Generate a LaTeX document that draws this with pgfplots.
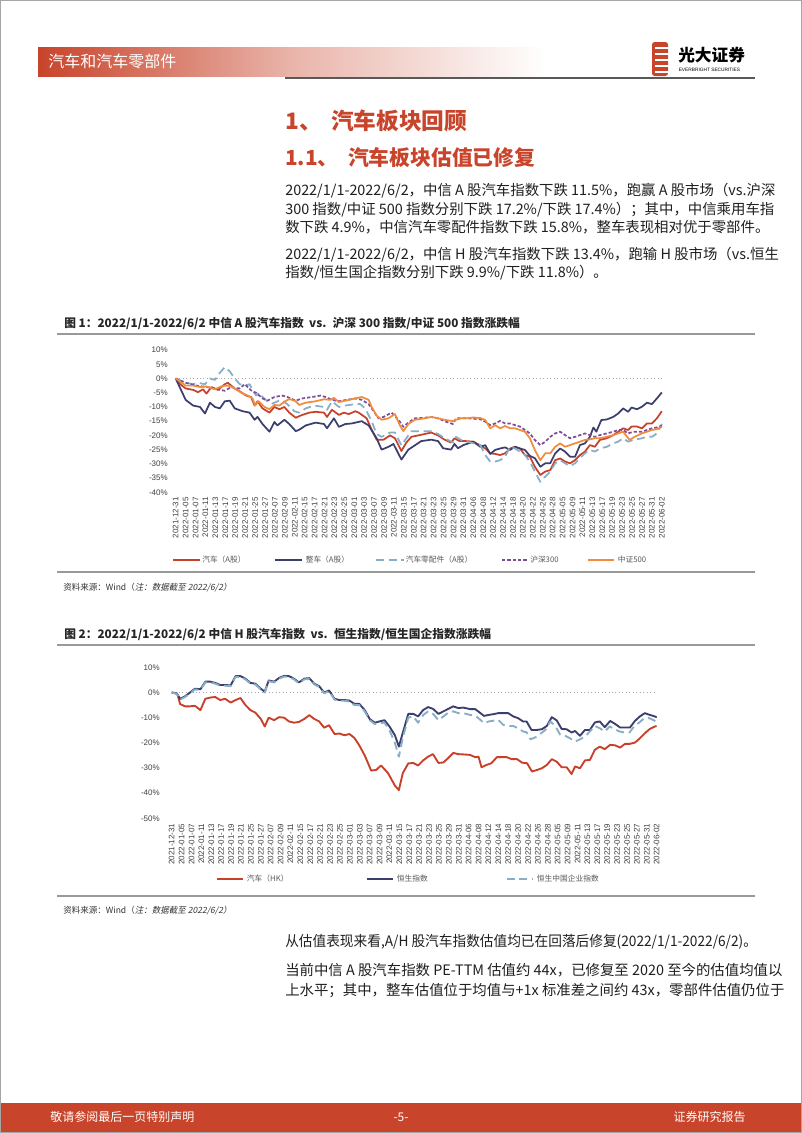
\documentclass[border=0pt]{standalone}
\usepackage{pgfplots}
\pgfplotsset{compat=1.18}
\usepackage{fontspec}
\setmainfont{Liberation Sans}
\newfontfamily\cjk{Noto Sans CJK SC}
\newfontfamily\cjkit[FakeSlant=0.2]{Noto Sans CJK SC}
\newfontfamily\arial{Liberation Sans}
\definecolor{hdr}{HTML}{C8442B}
\definecolor{cred}{HTML}{C9402A}
\definecolor{cnavy}{HTML}{3C3F6E}
\definecolor{cblue}{HTML}{86AEC6}
\definecolor{cpurp}{HTML}{7B4E9C}
\definecolor{corange}{HTML}{F28C3C}
\definecolor{tgray}{HTML}{404040}
\newcommand{\fs}[1]{\fontsize{#1}{#1}\selectfont}
\pgfplotsset{
  datelabels/.style={xticklabels={2021-12-31,2022-01-05,2022-01-07,2022-01-11,2022-01-13,2022-01-17,2022-01-19,2022-01-21,2022-01-25,2022-01-27,2022-02-07,2022-02-09,2022-02-11,2022-02-15,2022-02-17,2022-02-21,2022-02-23,2022-02-25,2022-03-01,2022-03-03,2022-03-07,2022-03-09,2022-03-11,2022-03-15,2022-03-17,2022-03-21,2022-03-23,2022-03-25,2022-03-29,2022-03-31,2022-04-06,2022-04-08,2022-04-12,2022-04-14,2022-04-18,2022-04-20,2022-04-22,2022-04-26,2022-04-28,2022-05-05,2022-05-09,2022-05-11,2022-05-13,2022-05-17,2022-05-19,2022-05-23,2022-05-25,2022-05-27,2022-05-31,2022-06-02}},
  pagechart/.style={
    anchor=south west, scale only axis,
    xmin=0, xmax=98,
    axis line style={draw=none},
    major tick length=0pt,
    xtick={0,2,...,98}, datelabels,
    tick label style={font=\arial\fs{6}, text=tgray},
    xticklabel style={rotate=90, anchor=east, inner xsep=3.4pt, inner ysep=0pt},
    clip=false,
    every axis plot/.append style={line join=round},
  }
}
\begin{document}
\begin{tikzpicture}
\begin{scope}[x=0.75pt,y=-0.75pt]
\path[use as bounding box, fill=white] (0,0) rectangle (802,1133);
\draw[black!35, line width=0.75pt] (0.5,0.5) rectangle (801.5,1132.5);
% header
\shade[left color=hdr, right color=white, middle color=hdr!40] (38,47) rectangle (545,76);
\node[anchor=base west, inner sep=0, text=white, font=\cjk\fs{12}] at (48,67.5) {汽车和汽车零部件};
\draw[black!65, line width=1.5pt] (285,77.5) -- (755,77.5);
% logo
\fill[hdr, rounded corners=2pt] (652,42) rectangle (668,76);
\foreach \yy in {48,54,60,66,72} {\draw[white, line width=0.9pt] (655,\yy) -- (668.5,\yy);}
\node[anchor=base west, inner sep=0, font=\cjk\bfseries\fs{12.5}] at (678,61) {光大证券};
\node[anchor=base west, inner sep=0, font=\arial\fs{3.6}] at (678.5,71.5) {EVERBRIGHT SECURITIES};
% headings
\node[anchor=base west, inner sep=0, text=hdr, font=\cjk\bfseries\fs{17}] at (285,129) {1、\hspace{7pt}汽车板块回顾};
\node[anchor=base west, inner sep=0, text=hdr, font=\cjk\bfseries\fs{15.6}] at (285,165) {1.1、\hspace{7pt}汽车板块估值已修复};
% body
\begin{scope}[every node/.style={anchor=base west, inner sep=0, font=\cjk\fs{10.8}, text=black!88}]
\node at (285,195.2) {2022/1/1-2022/6/2，中信 A 股汽车指数下跌 11.5\%，跑赢 A 股市场（vs.沪深};
\node at (285,214.2) {300 指数/中证 500 指数分别下跌 17.2\%/下跌 17.4\%）；其中，中信乘用车指};
\node at (285,232.2) {数下跌 4.9\%，中信汽车零配件指数下跌 15.8\%，整车表现相对优于零部件。};
\node at (285,259.2) {2022/1/1-2022/6/2，中信 H 股汽车指数下跌 13.4\%，跑输 H 股市场（vs.恒生};
\node at (285,277.2) {指数/恒生国企指数分别下跌 9.9\%/下跌 11.8\%）。};
\node at (285,946.2) {\scalebox{0.95}[1]{从估值表现来看,A/H 股汽车指数估值均已在回落后修复(2022/1/1-2022/6/2)。}};
\node at (285,975.2) {当前中信 A 股汽车指数 PE-TTM 估值约 44x，已修复至 2020 至今的估值均值以};
\node at (285,995.2) {上水平；其中，整车估值位于均值与+1x 标准差之间约 43x，零部件估值仍位于};
\end{scope}
% figure 1 frame texts
\node[anchor=base west, inner sep=0, font=\cjk\bfseries\fs{8.8}, text=black!85] at (64,327.4) {图 1：2022/1/1-2022/6/2 中信 A 股汽车指数 \ vs. \ 沪深 300 指数/中证 500 指数涨跌幅};
\draw[black!40, line width=1.5pt] (57,333.5) -- (754.5,333.5);
\draw[black!40, line width=1pt] (57,572) -- (754.5,572);
\node[anchor=base west, inner sep=0, font=\cjk\fs{6.4}, text=black!80] at (63,590) {资料来源：Wind（{\cjkit 注：数据截至 2022/6/2）}};
% legend 1
\begin{scope}[every node/.style={anchor=west, inner sep=0, font=\cjk\fs{5.8}, text=black!65}]
\draw[cred, line width=1.2pt] (172.8,560) -- (200,560); \node at (202,560) {汽车（A股）};
\draw[cnavy, line width=1.2pt] (274.5,560) -- (302,560); \node at (305.5,560) {整车（A股）};
\draw[cblue, line width=1.2pt, dash pattern=on 6pt off 3.5pt] (376,560) -- (404,560); \node at (405.5,560) {汽车零配件（A股）};
\draw[cpurp, line width=1.2pt, dash pattern=on 2.5pt off 1.5pt] (502,560) -- (528,560); \node at (530,560) {沪深300};
\draw[corange, line width=1.2pt] (588,560) -- (614,560); \node at (617.6,560) {中证500};
\end{scope}
% figure 2 frame texts
\node[anchor=base west, inner sep=0, font=\cjk\bfseries\fs{8.8}, text=black!85] at (64,638.4) {图 2：2022/1/1-2022/6/2 中信 H 股汽车指数 \ vs. \ 恒生指数/恒生国企指数涨跌幅};
\draw[black!40, line width=1.5pt] (57,645) -- (754.5,645);
\draw[black!40, line width=1pt] (57,896) -- (754.5,896);
\node[anchor=base west, inner sep=0, font=\cjk\fs{6.4}, text=black!80] at (63,913.1) {资料来源：Wind（{\cjkit 注：数据截至 2022/6/2）}};
\begin{scope}[every node/.style={anchor=west, inner sep=0, font=\cjk\fs{5.8}, text=black!65}]
\draw[cred, line width=1.3pt] (216.7,879) -- (243.3,879); \node at (246.7,879) {汽车（HK）};
\draw[cnavy, line width=1.3pt] (366.7,879) -- (393.3,879); \node at (396.7,879) {恒生指数};
\draw[cblue, line width=1.3pt, dash pattern=on 6pt off 3.5pt] (506.7,879) -- (533.3,879); \node at (536.7,879) {恒生中国企业指数};
\end{scope}
% footer
\fill[hdr] (0.8,1103) rectangle (801.2,1132);
\node[anchor=base west, inner sep=0, text=white, font=\cjk\fs{9}] at (50,1121.3) {敬请参阅最后一页特别声明};
\node[anchor=base, inner sep=0, text=white, font=\cjk\fs{9}] at (401,1121.3) {-5-};
\node[anchor=base east, inner sep=0, text=white, font=\cjk\fs{9}] at (746,1121.3) {证券研究报告};
\end{scope}

% ===== Chart 1 =====
\begin{axis}[pagechart,
  at={(131.78pt,-369.23pt)}, width=364.6pt, height=106.7pt,
  ymin=-40, ymax=10,
  ytick={-40,-35,-30,-25,-20,-15,-10,-5,0,5,10},
  yticklabels={-40\%,-35\%,-30\%,-25\%,-20\%,-15\%,-10\%,-5\%,0\%,5\%,10\%},
  yticklabel style={anchor=east, inner sep=0pt, xshift=-5.8pt},
]
\addplot[black!35, dotted, line width=0.6pt] coordinates {(0,0) (98,0)};
% 汽车(A股)
\addplot[cred, line width=1.3pt] coordinates {(0,0) (0.9,-2) (2,-3.5) (3.5,-4) (4.5,-4.8) (5.5,-3.8) (6.2,-5.3) (7.2,-3) (8.5,-4) (9.9,-2) (10.5,-1.5) (11.9,-3.5) (12.9,-4.5) (14.2,-6) (15.2,-6.5) (15.9,-9.5) (16.5,-8) (17.5,-10.5) (18.9,-12) (19.9,-10) (20.9,-10.8) (21.9,-10) (22.9,-12) (24.2,-13.8) (25.2,-13) (26.9,-12) (28.2,-11.7) (29.9,-12) (30.5,-13.5) (31.5,-11) (32.9,-12.8) (33.9,-12) (34.9,-12.5) (36.2,-11.5) (36.9,-12) (38.5,-14) (39.5,-18) (40.5,-21.5) (41.9,-21.5) (43.2,-20) (44.2,-21) (45.5,-25.5) (46.5,-22.5) (47.5,-20.5) (48.9,-20) (50.2,-19.5) (51.5,-19) (52.9,-20) (54.2,-21.5) (55.5,-22.5) (56.2,-21) (57.2,-22) (58.5,-22) (60,-22.2) (61.4,-23.5) (62.4,-24.6) (63.4,-26.3) (64.4,-26.5) (65.4,-26.9) (66.4,-26.3) (67.4,-24.6) (68.4,-24) (69.4,-24.6) (70.4,-26.9) (71.4,-27.5) (72.4,-31) (73.5,-33.9) (74.5,-32.7) (75.5,-32.2) (76.5,-28.7) (77.5,-28.1) (78.5,-29.2) (79.5,-29.8) (80.5,-28.7) (81.5,-26.9) (82.5,-25.7) (83.5,-23.4) (84.5,-24) (85.5,-21.6) (86.9,-21) (88.2,-19.9) (89.2,-18.7) (90.2,-17.5) (91.2,-18.1) (91.9,-16.9) (93,-16.9) (94,-17.5) (95,-15.8) (96,-15.8) (97,-14) (98,-11.5)};
% 整车(A股)
\addplot[cnavy, line width=1.3pt] coordinates {(0,0) (2,-7.5) (3.5,-9.5) (4.9,-10) (5.9,-12.3) (6.9,-8.5) (7.9,-10) (8.9,-10.5) (9.9,-8) (10.9,-7.8) (11.9,-10.5) (13.5,-11.5) (14.9,-12) (15.9,-14.5) (16.5,-13.5) (17.5,-16) (18.9,-18.7) (19.9,-15.3) (20.5,-16.5) (21.9,-14.5) (22.9,-16) (24.2,-18.5) (24.9,-18) (26.2,-16.5) (28.2,-15.5) (29.9,-16) (30.5,-17.5) (31.9,-14) (32.9,-17) (34.2,-16) (35.5,-15.8) (37.5,-15) (38.9,-16.5) (40.5,-21) (41.5,-25) (42.9,-24) (43.9,-23) (45.5,-28.5) (46.9,-25) (48.2,-23.5) (49.5,-22) (51.5,-21.5) (52.9,-22) (53.9,-24.5) (55.5,-25) (56.2,-23) (56.9,-24.5) (58,-23.4) (60,-22.2) (61.4,-24) (62.4,-23.4) (63.4,-26.5) (64.4,-25.1) (65.4,-24.6) (66.4,-24.2) (67.4,-25.1) (68.4,-24) (69.4,-24.6) (70.4,-25.1) (71.4,-27.2) (72.4,-28) (73.5,-31) (74.5,-29.8) (75.5,-29.8) (76.5,-26.3) (77.5,-24.6) (78.5,-25.7) (79.5,-27.5) (80.5,-27.5) (81.5,-23.4) (82.5,-22.8) (83.5,-20.5) (84.2,-17.2) (84.8,-18.7) (85.8,-14.6) (86.9,-14.4) (88.2,-13.5) (89.2,-12.3) (90.2,-10.5) (91.2,-11.7) (91.9,-10.2) (93,-10.8) (94,-9.9) (95,-8.5) (96,-9) (97,-7) (98,-4.9)};
% 汽车零配件(A股)
\addplot[cblue, line width=1.3pt, dash pattern=on 6pt off 3.5pt] coordinates {(0,0) (2,-1.5) (3.5,-2) (4.5,-1.5) (5.9,-2) (6.9,0) (7.9,-0.5) (8.9,2) (9.9,4) (10.9,2.5) (11.9,0) (12.9,-2) (13.9,-2.5) (14.9,-2) (15.5,-4) (16.2,-6) (16.9,-5) (17.5,-6.5) (18.5,-8) (19.5,-8.8) (21.2,-7.5) (22.5,-9) (23.9,-11.5) (24.9,-12) (26.2,-10.5) (27.9,-9.5) (29.9,-10) (30.5,-11) (31.5,-8) (32.9,-10) (34.2,-9.5) (36.2,-9) (37.2,-9) (38.2,-10.5) (39.5,-15) (40.5,-19.5) (41.5,-20.5) (43.2,-19) (44.2,-19) (45.5,-23.5) (46.5,-21) (47.5,-18.5) (49.2,-18.5) (51.5,-18.5) (52.9,-19.5) (54.2,-21) (55.9,-22.5) (56.5,-20.5) (57.9,-22) (59.5,-22.5) (61.4,-23.4) (62.4,-26.9) (63.4,-29.2) (64.4,-29.2) (65.4,-28.7) (66.4,-27.5) (67.4,-24) (68.4,-24.6) (69.4,-25.7) (70.4,-26.9) (71.4,-29.2) (72.4,-32.7) (73.5,-36.3) (74.5,-34.5) (75.5,-32.7) (76.5,-29.8) (77.5,-28.7) (78.5,-29.8) (79.5,-30.8) (80.5,-29.8) (81.5,-28) (82.5,-26.3) (83.5,-25.1) (84.5,-25.7) (85.5,-24.6) (86.9,-24) (88.2,-22.8) (89.2,-22.2) (90.2,-21) (91.2,-22.2) (92.2,-21.6) (94,-21) (95,-20.5) (96,-20.5) (97,-19.3) (98,-16)};
% 沪深300
\addplot[cpurp, line width=1.3pt, dash pattern=on 2.5pt off 1.5pt] coordinates {(0,0) (2,-1.5) (4.2,-2.5) (6.2,-3) (7.9,-3.5) (8.9,-4) (9.9,-4.3) (11.2,-3) (11.9,-3.3) (12.9,-3.5) (13.9,-2) (14.5,-3) (15.4,-4.5) (16.2,-5) (17.5,-7) (18.5,-7.8) (19.9,-6.5) (21.5,-6) (22.5,-6.5) (24.2,-7.8) (25.5,-7) (27.5,-6.5) (29.2,-6) (30.2,-6.5) (31.5,-7.5) (32.9,-8) (34.5,-7.5) (36.2,-7) (37.5,-7.5) (38.9,-9) (39.9,-11.5) (40.9,-14) (41.9,-13.5) (43.5,-12) (44.9,-14.5) (45.9,-17) (46.9,-15.5) (48.2,-14) (50.2,-13.8) (51.5,-13.5) (52.9,-14) (54.2,-15) (55.9,-16) (56.5,-14) (57.5,-14) (59,-14) (61.4,-14.3) (62.4,-15.2) (63.4,-16.4) (64.4,-15.8) (65.4,-14.9) (66.4,-15.8) (67.4,-15.8) (68.4,-16.4) (69.4,-16.9) (70.4,-18.1) (71.4,-19.3) (72.4,-21.6) (73.5,-23.4) (74.5,-22.2) (75.5,-20.5) (76.5,-19.3) (77.5,-18.7) (78.5,-19.9) (79.5,-21) (80.5,-20.5) (81.5,-19.9) (82.5,-19.3) (83.5,-19.9) (84.5,-20.5) (85.5,-19.9) (86.9,-19.3) (88.2,-18.7) (89.2,-18.1) (90.2,-18.1) (91.2,-19.3) (92.2,-18.7) (94,-18.7) (95,-18.1) (96,-17.5) (97,-17.2) (98,-16.6)};
% 中证500
\addplot[corange, line width=1.3pt] coordinates {(0,0) (2,-2.5) (3.5,-2.5) (4.9,-3) (6.2,-2.8) (7.9,-3.8) (8.9,-3) (9.9,-2.5) (10.9,-2.6) (11.9,-3.5) (13.2,-5) (14.5,-6) (15.5,-7) (16,-9.5) (16.7,-8) (17.9,-10) (18.9,-10.8) (19.9,-9.3) (20.9,-9.5) (21.9,-8.2) (22.9,-7.2) (24.2,-8) (24.9,-9.3) (26.2,-8.5) (28.2,-8) (29.9,-7.3) (31.2,-7.5) (31.9,-6.8) (32.9,-8.3) (34.2,-7.8) (36.2,-7) (37.5,-6.5) (38.9,-7.5) (39.5,-10) (40.5,-13) (41.5,-14.5) (42.9,-14) (44.2,-12.5) (45.2,-16.5) (45.9,-18.5) (46.9,-16) (48.2,-14.5) (50.2,-14) (51.5,-13.5) (52.9,-14) (54.2,-14.5) (55.9,-15) (56.5,-14.5) (57.5,-14) (58.5,-14) (60,-13.7) (61.4,-13.9) (62.4,-14.6) (63.4,-17.5) (64.4,-16.4) (65.4,-17.5) (66.4,-16.7) (67.4,-17.5) (68.4,-17.5) (69.4,-18.1) (70.4,-18.7) (71.4,-21) (72.4,-25.1) (73.5,-28.7) (74.5,-26.3) (75.5,-26.3) (76.5,-24) (77.5,-22.8) (78.5,-24) (79.5,-23.4) (80.5,-22.8) (81.5,-22.2) (82.5,-21.6) (83.5,-21.4) (84.5,-21) (85.5,-21) (86.9,-20.5) (88.2,-19.9) (89.2,-19.3) (90.2,-18.7) (91.5,-21.6) (92.5,-20.5) (94,-19.3) (95,-18.7) (96,-18.1) (97,-17.8) (98,-17)};
\end{axis}

% ===== Chart 2 =====
\begin{axis}[pagechart,
  at={(128.78pt,-613.73pt)}, width=363.75pt, height=113.25pt,
  ymin=-50, ymax=10,
  ytick={-50,-40,-30,-20,-10,0,10},
  yticklabels={-50\%,-40\%,-30\%,-20\%,-10\%,0\%,10\%},
  yticklabel style={anchor=east, inner sep=0pt, xshift=-8.8pt},
  xticklabel style={inner xsep=3.8pt},
]
\addplot[black!35, dotted, line width=0.6pt] coordinates {(0,0) (98,0)};
% 汽车(HK)
\addplot[cred, line width=1.4pt] coordinates {(0,0) (1,-0.5) (1.2,-1) (1.7,-4.6) (2.7,-5.5) (3.7,-5.5) (4.7,-5.3) (5.8,-7) (6.8,-2.5) (7.8,-2) (8.8,-1.8) (9.8,-3) (10.8,-2.5) (11.9,-4) (12.9,-3) (13.9,-2.2) (14.9,-5) (15.9,-7) (16.9,-8) (18,-10.5) (18.8,-13.5) (19.6,-10) (20.7,-11) (21.7,-9.8) (22.7,-10) (23.7,-11.5) (24.7,-12) (25.7,-11.7) (26.8,-10.5) (27.8,-9) (28.8,-10.5) (29.8,-11.5) (30.8,-14) (31.8,-13) (32.9,-16.5) (33.9,-16.3) (34.9,-17) (35.9,-16.5) (36.9,-18) (37.9,-21) (39,-25) (40.3,-31) (41.3,-30.8) (42.3,-29) (43.7,-32) (45.1,-37) (45.9,-38.8) (46.7,-32) (47.8,-28.2) (48.8,-28) (49.8,-29) (50.8,-27) (51.8,-25.5) (52.8,-24.5) (53.9,-28) (54.9,-27.8) (55.9,-26) (56.9,-24) (57.9,-24.5) (58.9,-24.6) (60.3,-24.8) (61.3,-25.7) (62,-25.5) (62.6,-29.7) (63.6,-28.8) (64.6,-28.1) (65.7,-25.7) (66.7,-25.7) (67.7,-25.7) (68.7,-26.5) (69.8,-26.5) (70.8,-27.9) (71.8,-28.1) (72.8,-31.4) (73.8,-30.8) (74.8,-30.1) (75.8,-28.8) (76.8,-26.5) (77.8,-27.5) (78.8,-29.7) (79.8,-29.7) (80.8,-32.4) (81.5,-29.4) (82.5,-30.1) (83.5,-27) (84.5,-26.8) (85.5,-22.8) (86.5,-21.5) (87.5,-22.5) (88.6,-20.8) (89.6,-21) (90.6,-21.9) (91.6,-20.4) (92.6,-20.4) (93.6,-19.9) (94.6,-18.2) (95.6,-16.2) (96.6,-14.5) (97.6,-13.5) (98,-13.4)};
% 恒生指数
\addplot[cnavy, line width=1.4pt] coordinates {(0,0) (1,-0.3) (1.7,-2.5) (2.7,-1.5) (3.7,0) (4.7,1.5) (5.8,1.3) (6.8,4.3) (7.8,4.3) (8.8,3.8) (9.8,3) (10.8,3) (11.9,2.8) (12.9,6.5) (13.9,6.5) (14.9,5.5) (15.9,3.8) (16.9,3.5) (18,1.5) (18.8,0.3) (19.6,4.8) (20.7,4.3) (21.7,5.8) (22.7,6.6) (23.7,6.5) (24.7,5.5) (25.7,4) (26.8,5.5) (27.8,5.7) (28.8,3.5) (29.8,2.5) (30.8,0) (31.8,0.8) (32.9,-2.5) (33.9,-3) (34.9,-3) (35.9,-3.2) (36.9,-4.5) (37.9,-4.5) (39,-7) (40,-10.5) (41,-12) (42,-11.5) (43,-11) (44,-13.5) (45.1,-17) (45.9,-21.5) (46.7,-16) (47.8,-8.5) (48.8,-8.5) (49.8,-9.5) (50.8,-7) (51.8,-5.8) (52.8,-6.5) (53.9,-8.5) (54.9,-7.5) (55.9,-6.5) (56.9,-5.5) (57.9,-6.2) (58.9,-6) (60.3,-6.6) (61.3,-6.6) (62,-7.6) (63.1,-9.3) (64.1,-8.9) (65,-8.6) (66,-8.2) (67,-8.2) (68,-8.2) (69,-9.5) (70,-10.2) (71,-11.5) (71.7,-11.5) (72.7,-14.9) (73.7,-14.9) (74.8,-14.6) (75.8,-13.3) (76.8,-9.8) (77.8,-11.1) (78.8,-14.5) (79.8,-14.6) (80.8,-15.9) (81.5,-15.3) (82.5,-17.2) (83.5,-14.9) (84.5,-14.9) (85.5,-11.9) (86.5,-11.5) (87.5,-13.8) (88.6,-11.3) (89.6,-12.5) (90.6,-13.9) (91.6,-13.9) (92.6,-13.9) (93.6,-11.3) (94.6,-9.5) (95.6,-8.2) (96.6,-8.9) (97.6,-9.5) (98,-9.9)};
% 恒生中国企业指数
\addplot[cblue, line width=1.4pt, dash pattern=on 6pt off 3.5pt] coordinates {(0,0) (1,-0.5) (1.7,-2.8) (2.7,-1.8) (3.7,-0.3) (4.7,1.2) (5.8,1) (6.8,4) (7.8,4) (8.8,3.5) (9.8,2.7) (10.8,2.7) (11.9,2.5) (12.9,6.2) (13.9,6.2) (14.9,5.2) (15.9,3.5) (16.9,3.2) (18,1.2) (18.8,0) (19.6,4.5) (20.7,4) (21.7,5.5) (22.7,6.3) (23.7,6.2) (24.7,5.2) (25.7,3.7) (26.8,5.2) (27.8,5.4) (28.8,3.2) (29.8,2.2) (30.8,-0.3) (31.8,0.5) (32.9,-2.8) (33.9,-3.3) (34.9,-3.3) (35.9,-3.6) (36.9,-5) (37.9,-5) (39,-7.5) (40,-11) (41,-12.5) (42,-12.2) (43,-12) (44,-15) (45.1,-20) (45.9,-25.5) (46.7,-18) (47.8,-10) (48.8,-9.5) (49.8,-12) (50.8,-9) (51.8,-7.5) (52.8,-8.5) (53.9,-11) (54.9,-9.5) (55.9,-8) (56.9,-7.5) (57.9,-8.2) (58.9,-8.2) (60.3,-8.9) (61.3,-9.2) (62,-10.2) (63.1,-12.2) (64.1,-11.5) (65,-11.2) (66,-10.9) (67,-12.9) (68,-13.3) (69,-13.3) (70,-14.2) (71,-15.5) (71.7,-15.8) (72.5,-18.6) (73.5,-17.8) (74.5,-16.4) (75.5,-14.9) (76.5,-11.5) (77.5,-13.3) (78.5,-16.8) (79.5,-17.2) (80.5,-18.2) (81.5,-19.5) (82.5,-18.6) (83.5,-17.5) (84.5,-15.5) (85.5,-13.3) (86.5,-14.2) (87.5,-15.5) (88.5,-13.5) (89.5,-14.6) (90.5,-15.5) (91.5,-15.9) (92.5,-15.9) (93.5,-13.3) (94.5,-11.9) (95.5,-10.2) (96.5,-10.2) (97.5,-11.1) (98,-11.8)};
\end{axis}
\end{tikzpicture}
\end{document}
